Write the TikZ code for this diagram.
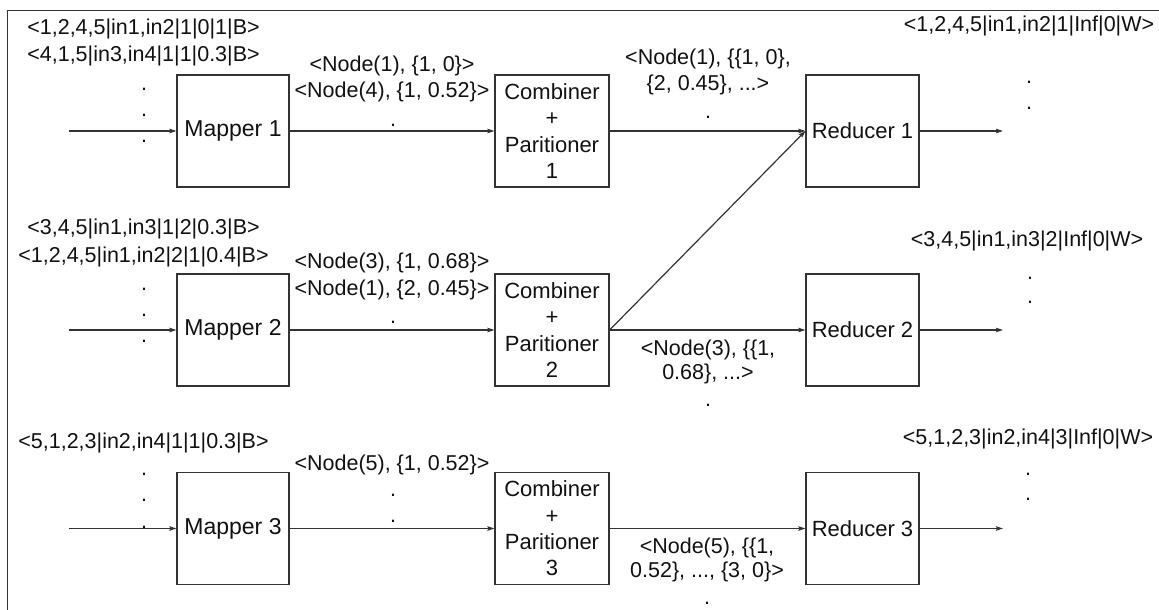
\documentclass[tikz,border=0pt]{standalone}
\usepackage{fontspec}
\setmainfont{Liberation Sans}
\usetikzlibrary{arrows.meta}
\definecolor{ln}{HTML}{333333}
\definecolor{tx}{HTML}{111111}
\tikzset{
  box/.style={draw=ln, line width=1.2pt, inner sep=0pt, text=tx, align=center,
    font=\fontsize{22}{26.3}\selectfont},
  mbox/.style={box, font=\fontsize{23}{26.3}\selectfont},
  lbl/.style={anchor=base, inner sep=0pt, text=tx, font=\fontsize{21.5}{26}\selectfont},
  arr/.style={draw=ln, line width=1.2pt, -{Stealth[length=7pt,width=4.5pt,inset=1pt]}},
  frame/.style={draw=ln, line width=1pt},
}
\begin{document}
\begin{tikzpicture}[x=1pt,y=-1pt]
\useasboundingbox (0,0) rectangle (1159,610);
\draw[frame] (7,610) -- (7,11) -- (1159,11);

% boxes
\node[mbox, minimum width=112pt, minimum height=112pt] (m1) at (233,131) {Mapper 1};
\node[mbox, minimum width=112pt, minimum height=112pt] (m2) at (233,330) {Mapper 2};
\node[mbox, minimum width=112pt, minimum height=112pt] (m3) at (233,528.5) {Mapper 3};
\node[box, minimum width=114pt, minimum height=112pt] (c1) at (552,131) {Combiner\\+\\Paritioner\\1};
\node[box, minimum width=114pt, minimum height=112pt] (c2) at (552,330) {Combiner\\+\\Paritioner\\2};
\node[box, minimum width=114pt, minimum height=112pt] (c3) at (552,528.5) {Combiner\\+\\Paritioner\\3};
\node[box, minimum width=113pt, minimum height=112pt] (r1) at (862.5,131) {Reducer 1};
\node[box, minimum width=113pt, minimum height=112pt] (r2) at (862.5,330) {Reducer 2};
\node[box, minimum width=113pt, minimum height=112pt] (r3) at (862.5,528.5) {Reducer 3};

% free ends
\coordinate (i1) at (69,131);
\coordinate (i2) at (69,330);
\coordinate (i3) at (69,528.5);
\coordinate (o1) at (1003,131);
\coordinate (o2) at (1003,330);
\coordinate (o3) at (1003,528.5);

% connectors
\draw[arr] (i1) -- (m1.west);
\draw[arr] (i2) -- (m2.west);
\draw[arr] (i3) -- (m3.west);
\draw[arr] (m1.east) -- (c1.west);
\draw[arr] (m2.east) -- (c2.west);
\draw[arr] (m3.east) -- (c3.west);
\draw[arr] (c1.east) -- (r1.west);
\draw[arr] (c2.east) -- (r1.west);
\draw[arr] (c2.east) -- (r2.west);
\draw[arr] (c3.east) -- (r3.west);
\draw[arr] (r1.east) -- (o1);
\draw[arr] (r2.east) -- (o2);
\draw[arr] (r3.east) -- (o3);

% input labels
\node[lbl] (a1) at (143.5,35) {<1,2,4,5|in1,in2|1|0|1|B>};
\node[lbl] (a2) at (143.5,62) {<4,1,5|in3,in4|1|1|0.3|B>};
\node[lbl] (a3) at (144,90) {.};
\node[lbl] (a4) at (144,116) {.};
\node[lbl] (a5) at (144,142) {.};
\node[lbl] (b1) at (143.5,234) {<3,4,5|in1,in3|1|2|0.3|B>};
\node[lbl] (b2) at (143.5,262) {<1,2,4,5|in1,in2|2|1|0.4|B>};
\node[lbl] (b3) at (144,290) {.};
\node[lbl] (b4) at (144,316) {.};
\node[lbl] (b5) at (144,342) {.};
\node[lbl] (e1) at (143.5,448) {<5,1,2,3|in2,in4|1|1|0.3|B>};
\node[lbl] (e3) at (144,475) {.};
\node[lbl] (e4) at (144,501) {.};
\node[lbl] (e5) at (144,528) {.};

% mapper -> combiner labels
\node[lbl] (f1) at (392,71) {<Node(1), \{1, 0\}>};
\node[lbl] (f2) at (392,97) {<Node(4), \{1, 0.52\}>};
\node[lbl] (f3) at (393,126) {.};
\node[lbl] (g1) at (392,268) {<Node(3), \{1, 0.68\}>};
\node[lbl] (g2) at (392,295) {<Node(1), \{2, 0.45\}>};
\node[lbl] (g3) at (393,323) {.};
\node[lbl] (h1) at (392,470) {<Node(5), \{1, 0.52\}>};
\node[lbl] (h2) at (393,496) {.};
\node[lbl] (h3) at (393,522) {.};

% combiner -> reducer labels
\node[lbl] (j1) at (708,65) {<Node(1), \{\{1, 0\},};
\node[lbl] (j2) at (708,90) {\{2, 0.45\}, ...>};
\node[lbl] (j3) at (708,118) {.};
\node[lbl] (k1) at (708,355) {<Node(3), \{\{1,};
\node[lbl] (k2) at (708,379) {0.68\}, ...>};
\node[lbl] (k3) at (708,406) {.};
\node[lbl] (l1) at (707,553) {<Node(5), \{\{1,};
\node[lbl] (l2) at (707,577) {0.52\}, ..., \{3, 0\}>};
\node[lbl] (l3) at (707,604) {.};

% output labels
\node[lbl] (p1) at (1029,32) {<1,2,4,5|in1,in2|1|Inf|0|W>};
\node[lbl] (p2) at (1029,84) {.};
\node[lbl] (p3) at (1029,109) {.};
\node[lbl] (q1) at (1027,246) {<3,4,5|in1,in3|2|Inf|0|W>};
\node[lbl] (q2) at (1030,279) {.};
\node[lbl] (q3) at (1030,303) {.};
\node[lbl] (s1) at (1028,444) {<5,1,2,3|in2,in4|3|Inf|0|W>};
\node[lbl] (s2) at (1028,475) {.};
\node[lbl] (s3) at (1028,500) {.};
\end{tikzpicture}
\end{document}
